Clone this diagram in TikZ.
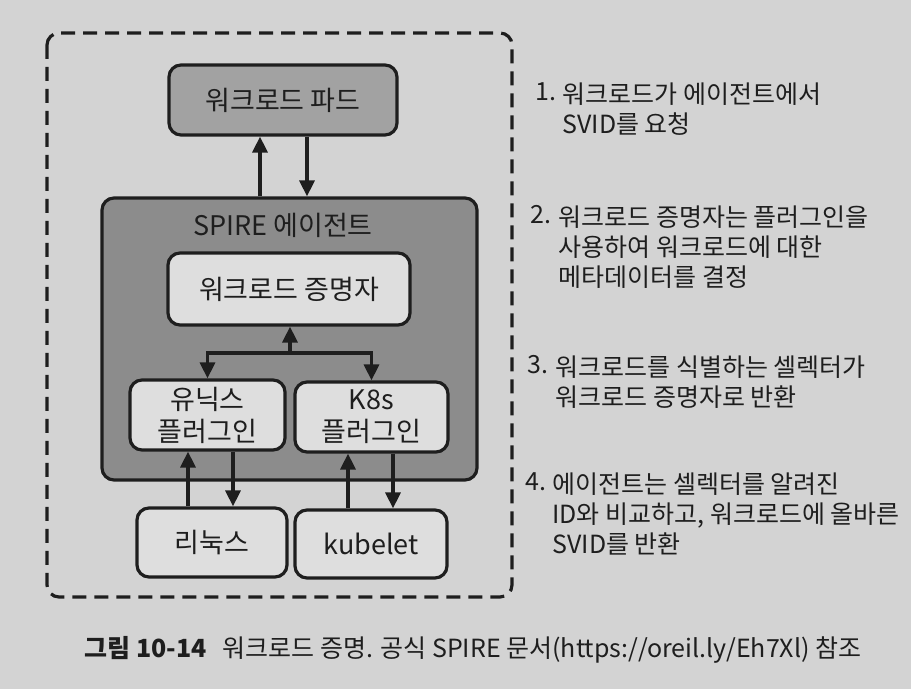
\documentclass[tikz,border=0pt]{standalone}
\usepackage{fontspec}
\setmainfont{Noto Sans CJK KR}
\usetikzlibrary{positioning,arrows.meta}
\definecolor{paper}{HTML}{D3D3D3}
\definecolor{ink}{HTML}{1E1E1E}
\definecolor{podgray}{HTML}{A2A2A2}
\definecolor{agentgray}{HTML}{8C8C8C}
\definecolor{boxwhite}{HTML}{DEDEDE}

\begin{document}
\begin{tikzpicture}[x=0.5pt, y=-0.5pt,
  box/.style={draw=ink, line width=1.6pt, rounded corners=6pt, align=center, inner sep=0pt, text=ink, font=\fontsize{13.5}{16}\selectfont},
  flow/.style={draw=ink, line width=1.6pt, -{Triangle[length=8pt, width=7.5pt]}},
  note/.style={anchor=north west, align=left, inner sep=0pt, text=ink, font=\fontsize{12.5}{15}\selectfont}
]
\fill[paper] (0,0) rectangle (911,689);
\draw[ink, line width=1.6pt, dash pattern=on 7pt off 4pt, rounded corners=6pt] (47,33) rectangle (512,597);

\node[box, fill=podgray, minimum width=114pt, minimum height=35pt] (pod) at (283,100) {워크로드 파드};
\node[box, fill=agentgray, minimum width=187.5pt, minimum height=141pt] (agent) at (289.5,339) {};
\node[text=ink, inner sep=0pt, font=\fontsize{13.5}{16}\selectfont] (agentlabel) at (283,225) {SPIRE 에이전트};
\node[box, fill=boxwhite, minimum width=121pt, minimum height=36pt] (attestor) at (289,289) {워크로드 증명자};
\node[box, fill=boxwhite, minimum width=77.5pt, minimum height=35pt] (unix) at (207.5,415) {유닉스\\플러그인};
\node[box, fill=boxwhite, minimum width=76.5pt, minimum height=35pt] (k8s) at (371.5,417) {K8s\\플러그인};
\node[box, fill=boxwhite, minimum width=75pt, minimum height=34.5pt] (linux) at (212,542.5) {리눅스};
\node[box, fill=boxwhite, minimum width=76pt, minimum height=34pt] (kubelet) at (371,544) {kubelet};

% pod <-> agent
\draw[flow] ([xshift=-11.5pt]pod.south |- agent.north) -- ([xshift=-11.5pt]pod.south);
\draw[flow] ([xshift=12pt]pod.south) -- ([xshift=12pt]pod.south |- agent.north);

% attestor <-> plugins
\coordinate (fork) at (290,353);
\draw[flow] (fork) -- (attestor.south -| fork);
\draw[flow, {Triangle[length=8pt, width=7.5pt]}-{Triangle[length=8pt, width=7.5pt]}] (unix.north) |- (fork) -| (k8s.north);

% plugins <-> sources
\draw[flow] ([xshift=-12pt]linux.north) -- ([xshift=-12pt]linux.north |- unix.south);
\draw[flow] ([xshift=10.5pt]linux.north |- unix.south) -- ([xshift=10.5pt]linux.north);
\draw[flow] ([xshift=-11.5pt]kubelet.north) -- ([xshift=-11.5pt]kubelet.north |- k8s.south);
\draw[flow] ([xshift=11pt]kubelet.north |- k8s.south) -- ([xshift=11pt]kubelet.north);

% steps
\node[note] (n1) at (535,82) {1.};
\node[note] (s1) at (562,82) {워크로드가 에이전트에서\\SVID를 요청};
\node[note] (n2) at (530,205) {2.};
\node[note] (s2) at (558,205) {워크로드 증명자는 플러그인을\\사용하여 워크로드에 대한\\메타데이터를 결정};
\node[note] (n3) at (527,355) {3.};
\node[note] (s3) at (555,355) {워크로드를 식별하는 셀렉터가\\워크로드 증명자로 반환};
\node[note] (n4) at (525,472) {4.};
\node[note] (s4) at (552,472) {에이전트는 셀렉터를 알려진\\ID와 비교하고, 워크로드에 올바른\\SVID를 반환};

\node[anchor=west, inner sep=0pt, text=ink, font=\fontsize{12.5}{15}\selectfont] (caption) at (84,650) {\textbf{그림 10-14}\hspace{8pt}워크로드 증명. 공식 SPIRE 문서(https://oreil.ly/Eh7Xl) 참조};
\end{tikzpicture}
\end{document}
